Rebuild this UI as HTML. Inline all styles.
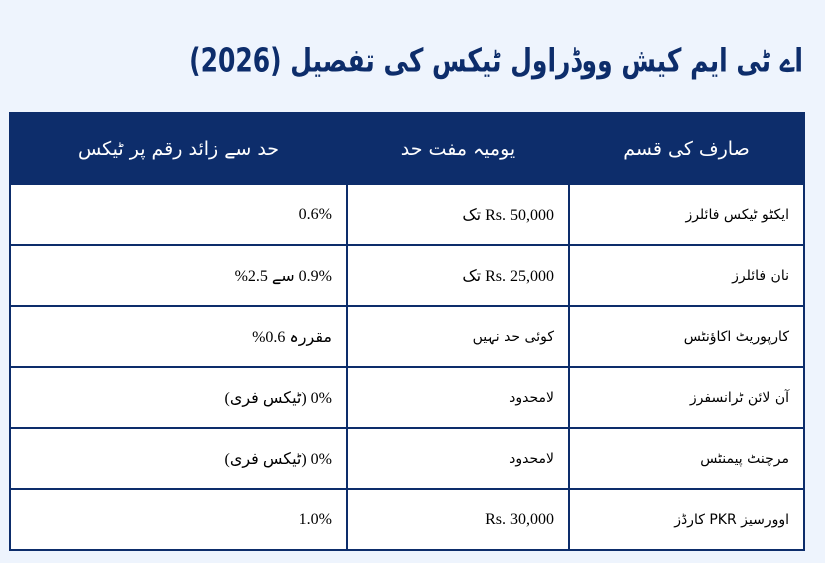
<!DOCTYPE html>
<html><head><meta charset="utf-8">
<style>
body{margin:0;width:825px;height:563px;background:#eef4fd;font-family:"Liberation Serif","DejaVu Sans",serif;overflow:hidden;position:relative}
.title{position:absolute;right:22px;top:46px;font-size:25px;font-weight:bold;color:#0d2d6b;direction:rtl;white-space:nowrap;font-family:"DejaVu Sans",sans-serif;transform:scaleY(1.3);transform-origin:right center}
table{position:absolute;left:9px;top:112px;width:796px;border-collapse:collapse;direction:rtl;table-layout:fixed}
td,th{border:2px solid #0d2d6b;background:#fff;color:#000;font-size:16px;padding:0 14px;text-align:right;height:59px}
th{background:#0d2d6b;color:#fff;text-align:center;height:69px;font-size:19px;font-weight:normal;font-family:"DejaVu Sans",sans-serif}
td.u{font-family:"DejaVu Sans",sans-serif;font-size:14px}
</style></head><body>
<div class="title">اے ٹی ایم کیش ووڈراول ٹیکس کی تفصیل (2026)</div>
<table>
<tr><th style="width:205px">صارف کی قسم</th><th style="width:192px">یومیہ مفت حد</th><th>حد سے زائد رقم پر ٹیکس</th></tr>
<tr><td class="u">ایکٹو ٹیکس فائلرز</td><td>Rs. 50,000 تک</td><td>0.6%</td></tr>
<tr><td class="u">نان فائلرز</td><td>Rs. 25,000 تک</td><td>0.9% سے 2.5%</td></tr>
<tr><td class="u">کارپوریٹ اکاؤنٹس</td><td class="u">کوئی حد نہیں</td><td>مقررہ 0.6%</td></tr>
<tr><td class="u">آن لائن ٹرانسفرز</td><td class="u">لامحدود</td><td>0% (ٹیکس فری)</td></tr>
<tr><td class="u">مرچنٹ پیمنٹس</td><td class="u">لامحدود</td><td>0% (ٹیکس فری)</td></tr>
<tr><td class="u">اوورسیز PKR کارڈز</td><td>Rs. 30,000</td><td>1.0%</td></tr>
</table>
</body></html>
